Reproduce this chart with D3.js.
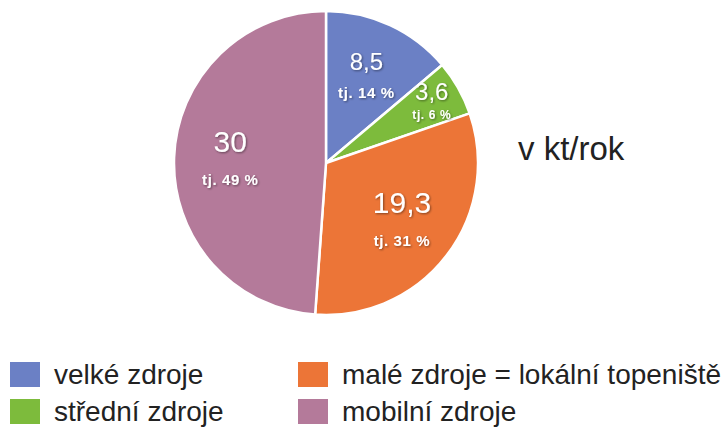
<!DOCTYPE html>
<html>
<head>
<meta charset="utf-8">
<script src="https://cdn.jsdelivr.net/npm/d3@7"></script>
<style>
  html, body { margin: 0; padding: 0; background: #ffffff; }
  svg { display: block; font-family: "Liberation Sans", Arial, Helvetica, sans-serif; }
</style>
</head>
<body>
<svg id="chart" width="727" height="431"></svg>
<script>
// ---- data ----
const categories = ["velké zdroje", "střední zdroje", "malé zdroje = lokální topeniště", "mobilní zdroje"];
const values = [8.5, 3.6, 19.3, 30];
const valueLabels = ["8,5", "3,6", "19,3", "30"];
const shareLabels = ["tj. 14 %", "tj. 6 %", "tj. 31 %", "tj. 49 %"];
const colors = ["#6b80c5", "#7dbb3c", "#ec7537", "#b47a9a"];
const unitLabel = "v kt/rok";

// ---- layout ----
const svg = d3.select("#chart");
const cx = 326, cy = 163, R = 152;

const defs = svg.append("defs");
const f = defs.append("filter").attr("id", "shadow").attr("x", "-20%").attr("y", "-20%").attr("width", "140%").attr("height", "140%");
f.append("feDropShadow").attr("dx", 1).attr("dy", 1).attr("stdDeviation", 0.8).attr("flood-color", "#000").attr("flood-opacity", 0.45);

const pie = d3.pie().value(d => d).sort(null).startAngle(0).endAngle(2 * Math.PI);
const arcs = pie(values);
const arc = d3.arc().innerRadius(0).outerRadius(R);

const g = svg.append("g").attr("transform", `translate(${cx},${cy})`);

g.selectAll("path.slice")
  .data(arcs)
  .enter().append("path")
  .attr("class", "slice")
  .attr("d", arc)
  .attr("fill", (d, i) => colors[i])
  .attr("stroke", "#ffffff")
  .attr("stroke-width", 2.5)
  .attr("stroke-linejoin", "round");

// labels
const span = d => d.endAngle - d.startAngle;
const labelPos = d => {
  const r = span(d) < 0.5 ? 0.8 * R : 0.63 * R;
  return d3.arc().innerRadius(r).outerRadius(r).centroid(d);
};

const lab = g.selectAll("g.lab")
  .data(arcs)
  .enter().append("g")
  .attr("class", "lab")
  .attr("transform", d => { const c = labelPos(d); return `translate(${c[0]},${c[1] + (span(d) < 0.5 ? 3 : 0)})`; })
  .attr("filter", "url(#shadow)");

lab.append("text")
  .attr("text-anchor", "middle")
  .attr("y", d => span(d) < 1.2 ? -6 : -8)
  .attr("fill", "#ffffff")
  .attr("font-size", d => span(d) < 1.2 ? 24 : 30)
  .text((d, i) => valueLabels[i]);

lab.append("text")
  .attr("text-anchor", "middle")
  .attr("y", d => span(d) < 0.5 ? 13 : (span(d) < 1.2 ? 22 : 25))
  .attr("fill", "#ffffff")
  .attr("font-weight", "bold")
  .attr("letter-spacing", 0.6)
  .attr("font-size", d => span(d) < 0.5 ? 12 : 15)
  .text((d, i) => shareLabels[i]);

// unit label
svg.append("text")
  .attr("x", 518)
  .attr("y", 160)
  .attr("font-size", 33)
  .attr("fill", "#222222")
  .text(unitLabel);

// legend: two columns, two rows
const colX = [10, 298];
const rowY = [362, 399];
const leg = svg.append("g");
categories.forEach((name, i) => {
  const col = Math.floor(i / 2), row = i % 2;
  const item = leg.append("g").attr("transform", `translate(${colX[col]},${rowY[row]})`);
  item.append("rect").attr("width", 30).attr("height", 25).attr("fill", colors[i]);
  item.append("text")
    .attr("x", 44)
    .attr("y", 22)
    .attr("font-size", 28)
    .attr("fill", "#222222")
    .text(name);
});
</script>
</body>
</html>
